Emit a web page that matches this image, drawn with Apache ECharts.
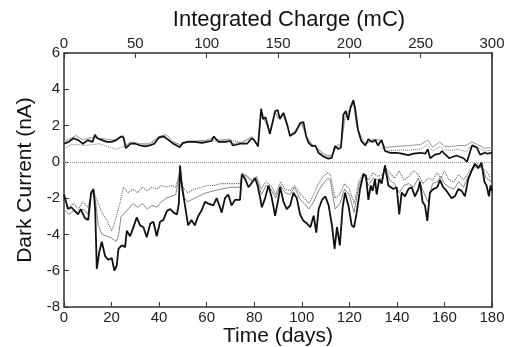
<!DOCTYPE html>
<html><head><meta charset="utf-8">
<script src="https://cdn.jsdelivr.net/npm/echarts@6/dist/echarts.min.js"></script>
<style>html,body{margin:0;padding:0;background:#fff}#c{width:510px;height:347px}</style>
</head><body><div id="c"></div>
<script>
// Upper group (positive dark current)
var tU1 = [0,2,4,6,8,10,12,13,14,16,18,20,22,24,25,26,28,30,32,34,36,38,40,42,44,46,48.7,50,52,55,58,60,62,63,65,68,70,71,74,77,79,80,81.6,82.9,83.7,84.8,86.6,88.8,89.9,90.8,92.3,94,95,97.2,99.3,100.7,101.8,102.8,104.3,105.7,107,109,111.2,112.6,114,115.4,116.5,117.5,118.5,119.5,120.5,121.7,122.5,123.6,125,126.7,128,129.5,131,132,133.6,135,137,140,142,144.8,147,150,152,153,154,156,158,159,160,162,165,168,169.5,171.6,173.6,175,177,178,180];
var vU1 = [1.0,1.1,1.3,1.2,1.0,1.2,1.1,1.5,1.3,1.2,1.1,1.1,1.2,1.4,1.35,0.75,1.0,1.0,0.9,0.85,0.9,1.0,1.35,1.4,1.2,1.0,0.8,1.05,1.1,1.1,1.05,1.1,1.15,1.4,1.1,1.1,1.15,0.9,1.0,1.0,1.3,1.2,0.85,2.93,2.36,2.45,1.54,2.8,2.85,2.36,2.7,2.0,1.43,1.6,2.14,2.2,1.43,1.06,0.87,0.9,0.5,0.3,0.18,0.22,0.87,0.7,0.8,2.6,2.8,2.3,3.0,3.4,2.9,1.8,1.15,0.9,1.25,1.1,1.2,0.9,1.2,0.6,0.5,0.5,0.45,0.37,0.45,0.5,0.45,0.7,0.2,0.4,0.45,0.6,0.45,0.2,0.35,0.2,0.0,0.9,0.8,0.4,0.5,0.45,0.5];
var tU2 = [0,3,5,8,10,13,15,18,21,24,25,26,28,32,36,40,43,46,49,52,56,60,62,65,70,71,75,79,81.6,82.9,84,86.6,88.8,90,92.3,95,97,100,102,104,107,109,111,113,115,116.5,118,120,121.7,123,125,127,130,133,135,140,145,150,153,155,158,160,163,166,169,171.6,174,177,180];
var vU2 = [1.1,1.3,1.45,1.2,1.3,1.35,1.3,1.25,1.2,1.4,1.45,0.9,1.1,1.0,1.0,1.4,1.5,1.1,0.95,1.15,1.15,1.2,1.3,1.2,1.25,1.0,1.1,1.4,0.9,2.8,2.4,1.6,2.7,2.4,2.6,1.5,1.7,2.1,1.4,1.0,0.7,0.45,0.35,0.4,0.95,0.9,2.4,2.8,3.3,2.0,1.2,1.0,1.25,1.2,0.8,0.85,0.9,0.95,1.2,0.8,1.1,0.85,0.85,0.9,0.9,1.1,0.95,0.75,0.8];
var tU3 = [0,3,6,9,12,15,18,22,24.2,26,28,32,36,40,43,46,49,52,56,60,65,70,75,79,81.6,82.9,84.8,86.6,88.8,90.8,92.3,95,97.2,100,102.8,105.7,109,112.6,114,116.5,118.5,120.5,121.7,123.6,126.7,129.5,132,135,140,145,150,153,155,158,160,163,166,169,171.6,174,177,180];
var vU3 = [0.7,0.95,0.95,0.9,0.95,1.0,0.85,0.7,0.8,0.85,1.0,0.95,0.95,1.3,1.35,1.05,0.9,1.1,1.1,1.15,1.15,1.2,1.05,1.3,0.85,2.8,2.4,1.6,2.75,2.4,2.6,1.5,1.6,2.1,1.1,0.85,0.35,0.3,0.85,0.8,2.7,2.9,3.3,1.8,0.95,1.15,1.0,0.6,0.65,0.65,0.7,0.95,0.6,0.85,0.65,0.65,0.7,0.55,0.95,0.8,0.6,0.65];
// Lower group (negative dark current)
var tL1 = [0,1.7,3,4.5,5.9,7,8.8,10.2,11.4,12.4,13.1,13.8,14.8,15.9,17.3,18.7,20.1,21.2,22.2,22.9,24.3,25.7,26.4,27.8,29.2,30.6,32,33.4,34.8,36.3,37.6,39,40.4,41.8,43.3,44.7,46.1,47.5,48.3,48.8,49.4,50.4,52.2,53.6,55,56.4,57.8,59.3,60.7,62.8,64.2,65.6,66.3,67.7,69.1,70.5,71.9,74,74.8,76.2,77.6,79,80.4,81.4,82.5,83.2,84.6,86,87.4,88.8,90.2,90.9,92.3,93.7,95.1,96.5,97.9,99.3,100.7,102.2,103.6,105,106.1,107.1,108.5,109.9,111.3,112.7,113.8,114.8,116,117.2,118.2,119.6,121,122,123.1,124.5,125.9,127,128,129,129.8,130.8,131.5,132.6,133.6,135,136.4,138.5,139.9,141,142,143.4,144.8,146.2,147.6,149,149.7,150.8,151.8,152.8,153.9,155.3,157,158.1,159.5,160.9,163,164.4,165.8,167.2,168.6,170,171.4,172.8,174.2,175.6,176.8,177.7,178.7,179.4,180];
var vL1 = [-1.8,-2.6,-2.5,-2.7,-2.9,-2.6,-3.1,-3.2,-1.7,-1.5,-2.6,-5.9,-5.0,-4.4,-5.2,-5.4,-5.3,-6.0,-5.7,-4.8,-4.6,-4.7,-3.8,-4.1,-3.6,-3.06,-3.5,-3.6,-4.16,-3.4,-3.3,-4.1,-3.3,-3.2,-2.7,-2.6,-2.8,-2.9,-2.3,-0.2,-1.1,-2.0,-3.5,-3.2,-3.5,-3.0,-2.7,-2.2,-2.3,-2.4,-2.0,-2.5,-2.8,-2.0,-1.8,-2.4,-2.1,-2.1,-0.68,-0.95,-1.4,-1.15,-0.9,-1.3,-2.0,-2.5,-2.0,-1.3,-2.0,-2.97,-2.0,-1.4,-2.2,-2.6,-2.4,-1.7,-2.0,-2.9,-3.25,-3.4,-3.6,-2.97,-3.9,-2.6,-2.1,-1.9,-2.4,-3.5,-4.8,-3.6,-4.6,-2.5,-1.7,-2.4,-3.5,-3.6,-2.8,-1.5,-0.68,-0.77,-2.1,-1.3,-1.6,-0.95,-1.8,-0.95,-1.2,-0.2,-1.3,-1.5,-1.4,-2.9,-1.7,-1.9,-1.5,-1.4,-1.9,-1.5,-1.1,-2.2,-2.4,-3.25,-1.7,-1.5,-1.4,-1.0,-1.4,-1.6,-2.0,-1.9,-1.5,-1.6,-1.9,-0.95,-0.5,-0.1,-0.35,-0.05,-1.1,-1.3,-1.9,-1.3,-1.6];
var tL2 = [0,2,4,6,8,10,11.5,12.5,13.5,14.4,16,18,20,22,23,24,25,27,29,31,33,35,37,39,41,43,45,47,48.7,50,52,55,58,60,63,66,70,74,75,77,79,81,83,85,87,89,91,93,95,97,99,101,103,105,107,109,111,112,114,116,118,120,122,124,126,128,130,132,134,135,137,139,141,143,145,147,149,151,153,155,157,158.5,160,162,164,166,168,170,172,174,176,177.5,179,180];
var vL2 = [-2.6,-2.9,-2.7,-2.8,-2.6,-2.9,-1.7,-1.6,-2.4,-3.5,-4.0,-4.1,-4.2,-4.4,-4.0,-3.0,-2.9,-2.6,-2.3,-2.5,-2.3,-2.6,-2.4,-2.5,-2.2,-2.0,-1.9,-1.8,-0.5,-1.9,-2.2,-2.0,-1.8,-1.7,-1.6,-1.5,-1.4,-1.4,-0.7,-0.8,-1.1,-0.9,-1.8,-1.3,-1.5,-2.0,-1.3,-1.7,-1.8,-1.4,-2.0,-2.3,-2.6,-2.2,-1.6,-1.2,-0.9,-1.0,-2.6,-2.3,-1.5,-1.8,-2.8,-1.3,-0.7,-1.3,-0.9,-1.0,-0.9,-0.3,-1.0,-1.2,-1.7,-1.3,-1.2,-1.4,-0.9,-1.6,-2.2,-1.2,-1.1,-0.8,-1.2,-1.4,-1.5,-1.1,-1.4,-0.8,-0.4,-0.2,-0.3,-0.9,-1.0,-1.2];
var tL3 = [0,2,4,6,8,10,11.5,12.5,13.5,14.4,16,18,20,21,22,23.5,25,27,29,31,33,35,37,39,41,43,45,47,48.7,50,52,55,58,60,63,66,70,74,75,77,79,81,83,85,87,89,91,93,95,97,99,101,103,105,107,109,111,112,114,116,118,120,122,124,126,128,130,132,134,135,137,139,141,143,145,147,149,151,153,155,157,158.5,160,162,164,166,168,170,172,174,176,177.5,179,180];
var vL3 = [-2.4,-2.5,-2.3,-2.6,-2.2,-2.5,-1.8,-1.6,-2.0,-2.3,-2.8,-3.2,-3.8,-3.5,-3.0,-2.3,-1.4,-1.7,-1.5,-1.7,-1.4,-1.6,-1.4,-1.5,-1.3,-1.4,-1.3,-1.4,-0.6,-1.4,-1.7,-1.5,-1.4,-1.3,-1.3,-1.2,-1.2,-1.2,-0.6,-0.8,-1.0,-0.8,-1.5,-1.1,-1.3,-1.8,-1.1,-1.5,-1.6,-1.3,-1.7,-2.0,-2.3,-1.8,-1.2,-0.8,-0.6,-0.7,-2.0,-1.8,-1.2,-1.5,-2.3,-1.1,-0.6,-1.0,-0.6,-0.8,-0.7,-0.3,-0.6,-0.9,-0.5,-1.0,-0.8,-0.5,-0.7,-1.2,-0.9,-1.0,-0.6,-0.9,-0.5,-1.0,-1.1,-0.7,-1.0,-0.6,-0.3,-0.1,-0.4,-0.5,-0.8,-0.9];
var dayTicks = [0,180,20];
var chargeTicks = [0,300,50];
var currentTicks = [-8,6,2];

function pairs(t, v){ return t.map(function(x,i){ return [x, v[i]]; }); }
var F = 'Liberation Sans, Arial, sans-serif';
var axisCol = '#333';
function lineSeries(name, t, v, color, width, type, z){
  return {name:name, type:'line', xAxisIndex:0, yAxisIndex:0, data:pairs(t,v), symbol:'none', animation:false,
    lineStyle:{color:color, width:width, type:type||'solid'}, z:z};
}
var chart = echarts.init(document.getElementById('c'), null, {renderer:'canvas'});
var series = [
  lineSeries('U3', tU3, vU3, '#777', 1, 'dotted', 3),
  lineSeries('U2', tU2, vU2, '#999', 1, 'solid', 4),
  lineSeries('U1', tU1, vU1, '#111', 1.7, 'solid', 5),
  lineSeries('L3', tL3, vL3, '#666', 1.1, 'dotted', 3),
  lineSeries('L2', tL2, vL2, '#888', 1, 'solid', 4),
  lineSeries('L1', tL1, vL1, '#111', 1.8, 'solid', 5)
];
series[0].markLine = {silent:true, symbol:'none', label:{show:false}, animation:false,
  lineStyle:{color:'#999', type:'dotted', width:1}, data:[{yAxis:0}]};
chart.setOption({
  backgroundColor:'#fff',
  animation:false,
  grid:{left:64, right:18, top:53, bottom:40, containLabel:false, outerBoundsMode:'none'},
  xAxis:[
    {type:'value', min:dayTicks[0], max:dayTicks[1], interval:dayTicks[2], position:'bottom',
     name:'Time (days)', nameLocation:'middle', nameGap:19, nameMoveOverlap:false,
     nameTextStyle:{fontFamily:F, fontSize:21, color:'#111'},
     axisLine:{show:true, onZero:false, lineStyle:{color:axisCol, width:1.5}},
     axisTick:{show:true, inside:true, length:5, lineStyle:{color:axisCol}},
     axisLabel:{fontFamily:F, fontSize:15, color:'#222', margin:3},
     splitLine:{show:false}},
    {type:'value', min:chargeTicks[0], max:chargeTicks[1], interval:chargeTicks[2], position:'top',
     name:'Integrated Charge (mC)', nameLocation:'middle', nameGap:22, nameMoveOverlap:false,
     nameTextStyle:{fontFamily:F, fontSize:22, color:'#111', padding:[0,0,0,22]},
     axisLine:{show:true, onZero:false, lineStyle:{color:axisCol, width:1.5}},
     axisTick:{show:true, inside:true, length:5, lineStyle:{color:axisCol}},
     axisLabel:{fontFamily:F, fontSize:15, color:'#222', margin:2},
     splitLine:{show:false}},
  ],
  yAxis:[
    {type:'value', min:currentTicks[0], max:currentTicks[1], interval:currentTicks[2], position:'left',
     name:'Dark Current (nA)', nameLocation:'middle', nameGap:28, nameMoveOverlap:false,
     nameTextStyle:{fontFamily:F, fontSize:21, color:'#111'},
     axisLine:{show:true, onZero:false, lineStyle:{color:axisCol, width:1.5}},
     axisTick:{show:true, inside:true, length:5, lineStyle:{color:axisCol}},
     axisLabel:{fontFamily:F, fontSize:15, color:'#222', margin:4},
     splitLine:{show:false}},
    {type:'value', min:currentTicks[0], max:currentTicks[1], interval:currentTicks[2], position:'right',
     axisLine:{show:true, onZero:false, lineStyle:{color:'#555', width:2}},
     axisTick:{show:false}, axisLabel:{show:false}, splitLine:{show:false}}
  ],
  series: series
});
</script></body></html>
